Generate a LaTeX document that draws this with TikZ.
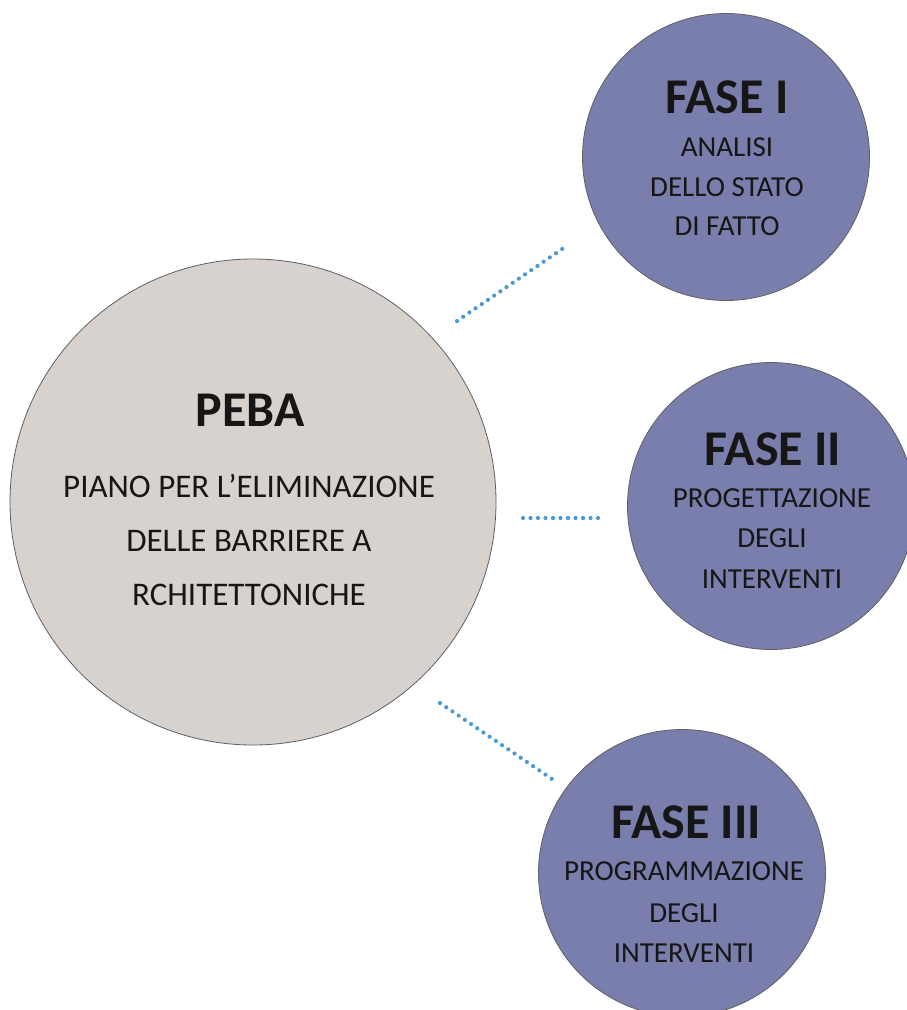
\documentclass[tikz,border=0pt]{standalone}
\usepackage{fontspec}
\setmainfont{Carlito}
\definecolor{pebagray}{RGB}{216,210,206}
\definecolor{fasepurple}{RGB}{122,126,172}
\definecolor{rimgray}{RGB}{95,95,100}
\definecolor{dotblue}{RGB}{74,155,211}
\definecolor{inktext}{RGB}{22,22,22}
\tikzset{
  bubble/.style={circle, draw=rimgray, line width=0.8pt, inner sep=0pt, outer sep=0pt},
  pebabubble/.style={bubble, fill=pebagray, minimum size=486pt},
  fasebubble/.style={bubble, fill=fasepurple, minimum size=287pt},
  headline/.style={anchor=base, inner sep=0pt, text=inktext, font=\bfseries\fontsize{50}{50}\selectfont},
  pebaline/.style={anchor=base, inner sep=0pt, text=inktext, font=\fontsize{33}{33}\selectfont},
  faseline/.style={anchor=base, inner sep=0pt, text=inktext, font=\fontsize{29}{29}\selectfont},
  dotlink/.style={draw=dotblue, line width=4.2pt, line cap=round, dash pattern=on 0pt off 7.5pt}
}
\begin{document}
\begin{tikzpicture}[x=1pt, y=-1pt]
\useasboundingbox[fill=white] (0,0) rectangle (907,1010);
% circles
\node[pebabubble] (peba) at (253,502) {};
\node[fasebubble] (f1) at (726,157) {};
\node[fasebubble] (f2) at (771,506) {};
\node[fasebubble] (f3) at (682,873) {};
% PEBA text
\node[headline] (pebat) at (250,426) {PEBA};
\node[pebaline] (pebaa) at (249,497) {PIANO PER L’ELIMINAZIONE};
\node[pebaline] (pebab) at (249,551) {DELLE BARRIERE A};
\node[pebaline] (pebac) at (249,605) {RCHITETTONICHE};
% FASE I
\node[headline] (f1t) at (727,113) {FASE I};
\node[faseline] (f1a) at (727,156) {ANALISI};
\node[faseline] (f1b) at (727,196) {DELLO STATO};
\node[faseline] (f1c) at (727,235) {DI FATTO};
% FASE II
\node[headline] (f2t) at (773,465) {FASE II};
\node[faseline] (f2a) at (772,507) {PROGETTAZIONE};
\node[faseline] (f2b) at (772,547) {DEGLI};
\node[faseline] (f2c) at (772,588) {INTERVENTI};
% FASE III
\node[headline] (f3t) at (686,838) {FASE III};
\node[faseline] (f3a) at (684,880) {PROGRAMMAZIONE};
\node[faseline] (f3b) at (684,922) {DEGLI};
\node[faseline] (f3c) at (684,962) {INTERVENTI};
% dotted links
\coordinate (l1a) at (457,321);
\coordinate (l1b) at (568,245);
\coordinate (l2a) at (523,518);
\coordinate (l2b) at (605,518);
\coordinate (l3a) at (440,703);
\coordinate (l3b) at (552,779);
\draw[dotlink] (l1a) -- (l1b);
\draw[dotlink] (l2a) -- (l2b);
\draw[dotlink] (l3a) -- (l3b);
\end{tikzpicture}
\end{document}
